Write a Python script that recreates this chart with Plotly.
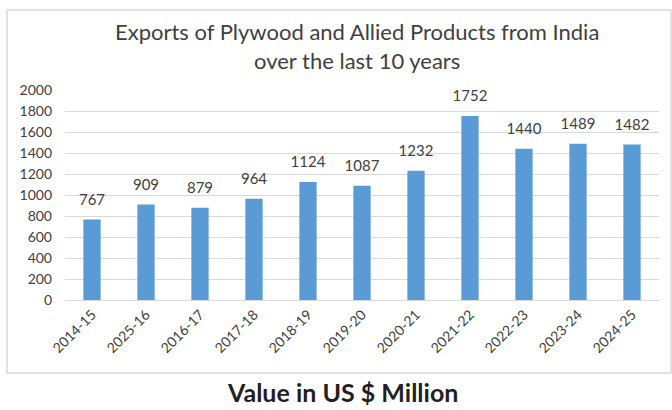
import plotly.graph_objects as go

years = ["2014-15", "2025-16", "2016-17", "2017-18", "2018-19", "2019-20",
         "2020-21", "2021-22", "2022-23", "2023-24", "2024-25"]
values = [767, 909, 879, 964, 1124, 1087, 1232, 1752, 1440, 1489, 1482]
title_text = "Exports of Plywood and Allied Products from India<br>over the last 10 years"
footer_text = "Value in US $ Million"

FONT = "Lato, 'Open Sans', sans-serif"
TXT = "#404040"

fig = go.Figure()
fig.add_trace(go.Bar(
    x=years, y=values,
    marker=dict(color="#5B9BD5", line=dict(width=0)),
    width=0.32,
    hoverinfo="x+y",
))
fig.add_trace(go.Scatter(
    x=years, y=values,
    mode="markers+text",
    marker=dict(size=16, opacity=0),
    text=[str(v) for v in values],
    textposition="top center",
    textfont=dict(family=FONT, size=15, color=TXT),
    cliponaxis=False,
    hoverinfo="skip",
))

W, H = 672, 410
L, R, T, B = 65, 13, 90, 110
pw, ph = W - L - R, H - T - B

def px_x(p):
    return (p - L) / pw

def px_y(p):
    return (H - B - p) / ph

fig.update_layout(
    width=W, height=H,
    margin=dict(l=L, r=R, t=T, b=B),
    paper_bgcolor="white", plot_bgcolor="white",
    showlegend=False,
    font=dict(family=FONT, color=TXT),
    xaxis=dict(
        range=[-0.5, len(years) - 0.5],
        tickangle=-45,
        tickfont=dict(family=FONT, size=14, color=TXT),
        showgrid=False, showline=True, linecolor="#D9D9D9", linewidth=1,
        ticks="", fixedrange=True,
    ),
    yaxis=dict(
        range=[0, 2000], dtick=200,
        tickfont=dict(family=FONT, size=14, color=TXT),
        showgrid=True, gridcolor="#D9D9D9", gridwidth=1,
        zeroline=False, showline=False, ticks="",
        ticklabelstandoff=12,
    ),
    shapes=[dict(
        type="rect", xref="paper", yref="paper",
        x0=px_x(7), x1=px_x(671), y0=px_y(373), y1=px_y(10),
        line=dict(color="#D9D9D9", width=1.5), layer="below",
    )],
    annotations=[
        dict(text=title_text, xref="paper", yref="paper",
             x=px_x(357), y=px_y(16), xanchor="center", yanchor="top",
             showarrow=False, align="center",
             font=dict(family=FONT, size=22, color=TXT)),
        dict(text="<b>" + footer_text + "</b>", xref="paper", yref="paper",
             x=px_x(342), y=px_y(409), xanchor="center", yanchor="bottom",
             showarrow=False,
             font=dict(family=FONT, size=25, color="#231F20")),
    ],
)

fig.write_html("out.html")
